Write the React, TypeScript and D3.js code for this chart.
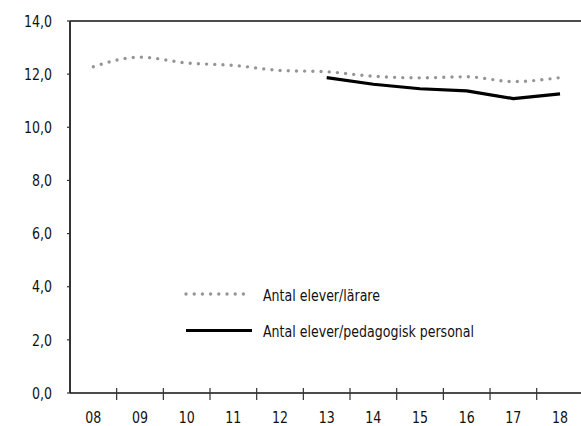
import * as d3 from "d3";
import { useEffect, useRef } from "react";

const years = ["08", "09", "10", "11", "12", "13", "14", "15", "16", "17", "18"];
const elevPerLarare = [12.28, 12.64, 12.42, 12.33, 12.14, 12.09, 11.92, 11.86, 11.9, 11.72, 11.87];
const elevPerPedPersonal = [null, null, null, null, null, 11.87, 11.62, 11.45, 11.37, 11.08, 11.26];
const yTicks = [0, 2, 4, 6, 8, 10, 12, 14];
const legendLabels = ["Antal elever/lärare", "Antal elever/pedagogisk personal"];

const FONT = "'DejaVu Sans Condensed', 'Liberation Sans Narrow', sans-serif";
const SX = 0.875; // squeeze to mimic the narrow typeface

export default function App() {
  const svgRef = useRef<SVGSVGElement | null>(null);
  const width = 581;
  const height = 426;

  useEffect(() => {
    if (!svgRef.current) return;
    const svg = d3.select(svgRef.current);
    svg.selectAll("*").remove();

    const left = 70;
    const top = 21;
    const bottom = 393;
    const bandW = 46.67;

    const x = d3
      .scaleBand<string>()
      .domain(years)
      .range([left, left + bandW * years.length]);

    const y = d3.scaleLinear().domain([0, 14]).range([bottom, top]);

    const cx = (d: string) => x(d)! + x.bandwidth() / 2;
    const fmt = (v: number) => d3.format(".1f")(v).replace(".", ",");

    const label = (
      g: d3.Selection<any, any, any, any>,
      tx: number,
      ty: number,
      txt: string,
      anchor: string,
      size: number
    ) =>
      g
        .append("text")
        .attr("transform", `translate(${tx},${ty}) scale(${SX},1)`)
        .attr("text-anchor", anchor)
        .attr("dy", "0.36em")
        .attr("font-family", FONT)
        .attr("font-size", size)
        .attr("fill", "#111")
        .text(txt);

    // top line at 14,0
    svg
      .append("line")
      .attr("x1", left)
      .attr("x2", width)
      .attr("y1", y(14))
      .attr("y2", y(14))
      .attr("stroke", "#111")
      .attr("stroke-width", 1.5);

    // y axis
    const yAxis = svg.append("g");
    yAxis
      .append("line")
      .attr("x1", left)
      .attr("x2", left)
      .attr("y1", y(14))
      .attr("y2", y(0))
      .attr("stroke", "#333")
      .attr("stroke-width", 2);
    yTicks.forEach((t) => {
      yAxis
        .append("line")
        .attr("x1", left - 3)
        .attr("x2", left)
        .attr("y1", y(t))
        .attr("y2", y(t))
        .attr("stroke", "#333")
        .attr("stroke-width", 1.2);
      label(yAxis, 52, y(t), fmt(t), "end", 16);
    });

    // x axis
    const xAxis = svg.append("g");
    xAxis
      .append("line")
      .attr("x1", left)
      .attr("x2", width)
      .attr("y1", bottom)
      .attr("y2", bottom)
      .attr("stroke", "#111")
      .attr("stroke-width", 1.5);
    years.slice(1).forEach((d) => {
      xAxis
        .append("line")
        .attr("x1", x(d)!)
        .attr("x2", x(d)!)
        .attr("y1", bottom - 5)
        .attr("y2", bottom + 7)
        .attr("stroke", "#333")
        .attr("stroke-width", 1.2);
    });
    years.forEach((d) => label(xAxis, cx(d), bottom + 24, d, "middle", 16));

    // gray dotted series
    const grayLine = d3
      .line<number>()
      .x((_, i) => cx(years[i]))
      .y((d) => y(d))
      .curve(d3.curveMonotoneX);

    svg
      .append("path")
      .datum(elevPerLarare)
      .attr("d", grayLine)
      .attr("fill", "none")
      .attr("stroke", "#959595")
      .attr("stroke-width", 3.4)
      .attr("stroke-linecap", "round")
      .attr("stroke-dasharray", "0 8.2");

    // black series
    const blackLine = d3
      .line<number | null>()
      .defined((d) => d !== null)
      .x((_, i) => cx(years[i]))
      .y((d) => y(d as number));

    svg
      .append("path")
      .datum(elevPerPedPersonal)
      .attr("d", blackLine)
      .attr("fill", "none")
      .attr("stroke", "#000")
      .attr("stroke-width", 3.2)
      .attr("stroke-linejoin", "round");

    // legend
    const legend = svg.append("g").attr("transform", "translate(186,294)");
    const rowH = 36.5;
    legend
      .append("line")
      .attr("x1", 0)
      .attr("x2", 64)
      .attr("y1", 0)
      .attr("y2", 0)
      .attr("stroke", "#959595")
      .attr("stroke-width", 3.4)
      .attr("stroke-linecap", "round")
      .attr("stroke-dasharray", "0 8.2");
    legend
      .append("line")
      .attr("x1", 0)
      .attr("x2", 66)
      .attr("y1", rowH)
      .attr("y2", rowH)
      .attr("stroke", "#000")
      .attr("stroke-width", 3.2);
    legendLabels.forEach((t, i) => label(legend, 77, i * rowH + 1, t, "start", 16));
  }, []);

  return (
    <svg
      ref={svgRef}
      width={width}
      height={height}
      style={{ position: "absolute", left: 0, top: 0, background: "#fff" }}
    />
  );
}
